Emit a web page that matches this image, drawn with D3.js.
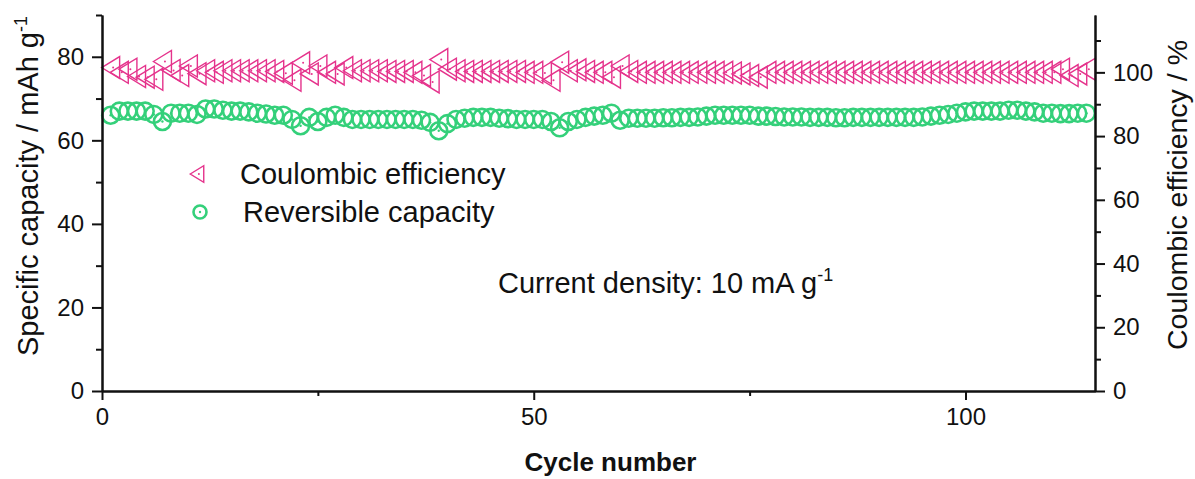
<!DOCTYPE html>
<html>
<head>
<meta charset="utf-8">
<script src="https://cdn.jsdelivr.net/npm/d3@7"></script>
<style>
  body { margin: 0; background: #fff; }
  svg text { font-family: "Liberation Sans", Arial, sans-serif; fill: #111; }
</style>
</head>
<body>
<div id="chart"></div>
<script>
// Reversible capacity (mAh g-1), cycles 1..114
var capacity = [
  66.0, 67.0, 67.0, 67.0, 67.0, 66.2, 64.5, 66.5, 66.5, 66.5,
  66.2, 67.5, 67.5, 67.2, 67.0, 67.0, 66.8, 66.5, 66.3, 66.0,
  66.0, 65.0, 63.5, 65.5, 64.5, 65.5, 66.0, 65.5, 65.0, 65.0,
  65.0, 65.0, 65.0, 65.0, 65.0, 65.0, 64.8, 64.3, 62.3, 64.0,
  65.0, 65.3, 65.5, 65.5, 65.5, 65.3, 65.2, 65.0, 65.0, 65.0,
  65.0, 64.5, 63.0, 64.5, 65.0, 65.5, 65.8, 66.0, 66.5, 64.8,
  65.3, 65.3, 65.3, 65.3, 65.4, 65.4, 65.5, 65.5, 65.6, 65.8,
  66.0, 66.0, 66.0, 66.0, 66.0, 65.8, 65.8, 65.7, 65.6, 65.6,
  65.6, 65.5, 65.5, 65.5, 65.4, 65.4, 65.5, 65.5, 65.5, 65.5,
  65.5, 65.5, 65.5, 65.5, 65.6, 65.8, 66.0, 66.2, 66.5, 66.8,
  67.0, 67.0, 67.0, 67.0, 67.2, 67.2, 67.0, 66.8, 66.5, 66.5,
  66.4, 66.4, 66.5, 66.5
]

// Coulombic efficiency (%), cycles 1..114
var efficiency = [
  101.5, 100.0, 101.0, 98.7, 98.5, 97.8, 103.4, 100.6, 99.0, 102.0,
  99.6, 100.5, 100.0, 100.5, 100.5, 100.5, 100.5, 100.5, 100.5, 100.3,
  99.7, 97.5, 103.0, 99.5, 102.0, 100.0, 99.5, 101.5, 100.5, 100.5,
  100.5, 100.5, 100.3, 100.3, 100.3, 100.0, 99.0, 97.0, 104.0, 101.0,
  100.5, 100.3, 100.3, 100.3, 100.3, 100.3, 100.3, 100.3, 100.0, 100.0,
  99.8, 97.5, 103.2, 100.5, 100.8, 100.3, 100.0, 100.0, 98.5, 102.0,
  100.3, 100.0, 100.0, 100.0, 100.0, 100.0, 100.0, 100.0, 100.0, 100.0,
  100.0, 100.0, 99.8, 99.5, 99.0, 98.5, 100.0, 100.0, 100.0, 100.0,
  100.0, 100.0, 100.0, 100.0, 100.0, 100.0, 100.0, 100.0, 100.0, 100.0,
  100.0, 100.0, 100.0, 100.0, 100.0, 100.0, 100.0, 100.0, 100.0, 100.0,
  100.0, 100.0, 100.0, 100.0, 100.0, 100.0, 100.0, 100.0, 100.0, 100.0,
  101.0, 99.0, 99.5, 101.0
]

// Axis ticks
var xMajor = [0, 50, 100]
var xMinor = [25, 75]
var yLeftMajor = [0, 20, 40, 60, 80]
var yLeftMinor = [10, 30, 50, 70, 90]
var yRightMajor = [0, 20, 40, 60, 80, 100]
var yRightMinor = [10, 30, 50, 70, 90, 110]

var pink = "#e5338c"
var green = "#34d07a"

var width = 1195
var height = 479
var margin = { top: 15, right: 100, bottom: 88, left: 102 }

var svg = d3.select("#chart").append("svg")
    .attr("width", width)
    .attr("height", height)

var x = d3.scaleLinear().domain([0, 115]).range([margin.left, width - margin.right])
var yL = d3.scaleLinear().domain([0, 90]).range([height - margin.bottom, margin.top])
var yR = d3.scaleLinear().domain([0, 118]).range([height - margin.bottom, margin.top])

var cycles = d3.range(1, capacity.length + 1)

// Marker shapes (drawn round the origin, moved by translate)
var triPath = "M-9,0L9,-11L9,11Z"
function drawTri(g, size) {
    g.append("path").attr("d", triPath)
        .attr("transform", "scale(" + size + ")")
        .attr("fill", "none").attr("stroke", pink).attr("stroke-width", 1.4 / size)
    g.append("circle").attr("cx", 2.5 * size).attr("r", 1).attr("fill", pink)
}
function drawCirc(g, r) {
    g.append("circle").attr("r", r)
        .attr("fill", "none").attr("stroke", green).attr("stroke-width", 2.6)
    g.append("circle").attr("r", 1.2).attr("fill", green)
}

// Coulombic efficiency markers
svg.append("g").selectAll("g")
    .data(cycles)
    .enter().append("g")
    .attr("transform", (d, i) => "translate(" + x(d) + "," + yR(efficiency[i]) + ")")
    .each(function () { drawTri(d3.select(this), 1) })

// Capacity markers
svg.append("g").selectAll("g")
    .data(cycles)
    .enter().append("g")
    .attr("transform", (d, i) => "translate(" + x(d) + "," + yL(capacity[i]) + ")")
    .each(function () { drawCirc(d3.select(this), 8.5) })

// Axes
var bottom = height - margin.bottom
function styleAxis(g) {
    g.select(".domain").attr("stroke", "#111").attr("stroke-width", 2)
    g.selectAll(".tick line").attr("stroke", "#111").attr("stroke-width", 2)
    g.selectAll("text").style("font-size", "24px").attr("fill", "#111")
}

svg.append("g")
    .attr("transform", "translate(0," + bottom + ")")
    .call(d3.axisBottom(x).tickValues(xMajor).tickSize(9).tickPadding(8).tickSizeOuter(0))
    .call(styleAxis)
svg.append("g")
    .attr("transform", "translate(0," + bottom + ")")
    .call(d3.axisBottom(x).tickValues(xMinor).tickSize(5).tickFormat("").tickSizeOuter(0))
    .call(styleAxis)

svg.append("g")
    .attr("transform", "translate(" + margin.left + ",0)")
    .call(d3.axisLeft(yL).tickValues(yLeftMajor).tickSize(10).tickPadding(8).tickSizeOuter(0))
    .call(styleAxis)
svg.append("g")
    .attr("transform", "translate(" + margin.left + ",0)")
    .call(d3.axisLeft(yL).tickValues(yLeftMinor).tickSize(6).tickFormat("").tickSizeOuter(0))
    .call(styleAxis)

var xr = width - margin.right
svg.append("g")
    .attr("transform", "translate(" + xr + ",0)")
    .call(d3.axisRight(yR).tickValues(yRightMajor).tickSize(10).tickPadding(8).tickSizeOuter(0))
    .call(styleAxis)
svg.append("g")
    .attr("transform", "translate(" + xr + ",0)")
    .call(d3.axisRight(yR).tickValues(yRightMinor).tickSize(6).tickFormat("").tickSizeOuter(0))
    .call(styleAxis)

// Axis titles
svg.append("text")
    .attr("x", (margin.left + xr) / 2 + 12)
    .attr("y", 471)
    .attr("text-anchor", "middle")
    .style("font-size", "26px").style("font-weight", "bold")
    .text("Cycle number")

var leftTitle = svg.append("text")
    .attr("transform", "translate(38," + 186 + ")rotate(-90)")
    .attr("text-anchor", "middle")
    .style("font-size", "29px")
leftTitle.append("tspan").text("Specific capacity / mAh g")
leftTitle.append("tspan").attr("dy", -11).style("font-size", "18px").text("-1")

svg.append("text")
    .attr("transform", "translate(1187," + 195 + ")rotate(-90)")
    .attr("text-anchor", "middle")
    .style("font-size", "28.5px")
    .text("Coulombic efficiency / %")

// Legend
var legend = svg.append("g")
var l1 = legend.append("g").attr("transform", "translate(197,174)")
drawTri(l1, 0.75)
legend.append("text").attr("x", 240).attr("y", 184).style("font-size", "29px").text("Coulombic efficiency")
var l2 = legend.append("g").attr("transform", "translate(200,212)")
drawCirc(l2, 6.5)
legend.append("text").attr("x", 243).attr("y", 222).style("font-size", "29px").text("Reversible capacity")

// Annotation
var note = svg.append("text").attr("x", 498).attr("y", 293).style("font-size", "29px")
note.append("tspan").text("Current density: 10 mA g")
note.append("tspan").attr("dy", -12).style("font-size", "18px").text("-1")
</script>
</body>
</html>
